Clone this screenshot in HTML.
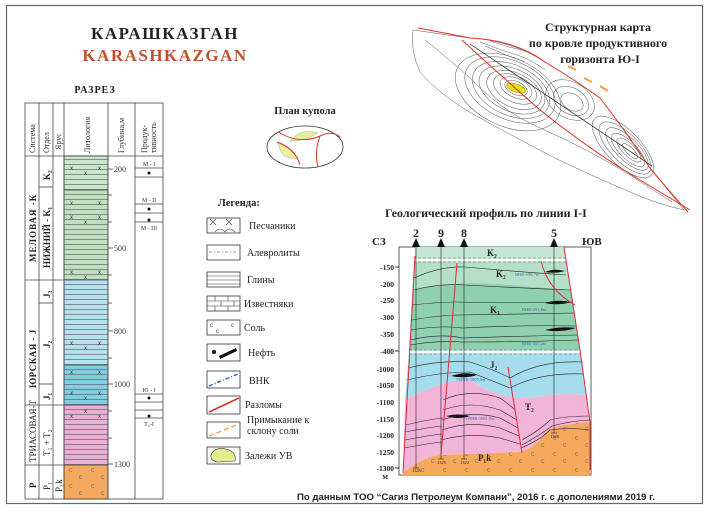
<!DOCTYPE html>
<html><head><meta charset="utf-8"><style>
html,body{margin:0;padding:0;background:#fff;}
svg{display:block;}
</style></head><body>
<svg width="708" height="517" viewBox="0 0 708 517" xmlns="http://www.w3.org/2000/svg" font-family="Liberation Serif, serif">
<defs>
<pattern id="clay" width="10" height="5" patternUnits="userSpaceOnUse"><line x1="0" y1="4.5" x2="10" y2="4.5" stroke="#555" stroke-width="0.6"/></pattern>
<pattern id="salt" width="22" height="16" patternUnits="userSpaceOnUse"><text x="3" y="8" font-size="7" font-family="Liberation Sans" fill="#777">c</text><text x="13" y="15" font-size="7" font-family="Liberation Sans" fill="#777">c</text></pattern>
</defs>
<rect x="6.5" y="5.5" width="696" height="498" fill="none" stroke="#666" stroke-width="1.2"/>

<text x="165" y="39" text-anchor="middle" font-size="17" font-weight="bold" letter-spacing="1.5" fill="#222">КАРАШКАЗГАН</text>
<text x="165" y="61" text-anchor="middle" font-size="17" font-weight="bold" letter-spacing="1.5" fill="#c0522a">KARASHKAZGAN</text>
<text x="95" y="93" text-anchor="middle" font-size="10" font-weight="bold" letter-spacing="1" fill="#222">РАЗРЕЗ</text>

<g stroke="#444" stroke-width="0.8" fill="none">
<rect x="64" y="156" width="44" height="34" fill="#c8e6c9"/>
<rect x="64" y="190" width="44" height="90" fill="#bfe0c0"/>
<rect x="64" y="280" width="44" height="85" fill="#b5e0ee"/>
<rect x="64" y="365" width="44" height="40" fill="#82cde0"/>
<rect x="64" y="405" width="44" height="60" fill="#eab0d4"/>
<rect x="64" y="465" width="44" height="34" fill="#f4a95e"/>
<rect x="64" y="156" width="44" height="309" fill="url(#clay)" stroke="none"/>
<rect x="64" y="465" width="44" height="34" fill="url(#salt)" stroke="none"/>
<rect x="25" y="103" width="138" height="396"/>
<line x1="25" y1="156" x2="163" y2="156"/>
<line x1="39" y1="103" x2="39" y2="499"/>
<line x1="53" y1="103" x2="53" y2="499"/>
<line x1="64" y1="103" x2="64" y2="499"/>
<line x1="108" y1="103" x2="108" y2="499"/>
<line x1="135" y1="103" x2="135" y2="499"/>
<line x1="25" y1="280" x2="64" y2="280"/>
<line x1="25" y1="405" x2="64" y2="405"/>
<line x1="25" y1="465" x2="64" y2="465"/>
<line x1="39" y1="187" x2="53" y2="187"/>
<line x1="39" y1="303" x2="53" y2="303"/>
<line x1="39" y1="384" x2="53" y2="384"/>
<line x1="108" y1="169" x2="113" y2="169"/><line x1="108" y1="195" x2="112" y2="195"/><line x1="108" y1="222" x2="112" y2="222"/>
<line x1="108" y1="248" x2="113" y2="248"/><line x1="108" y1="275" x2="112" y2="275"/><line x1="108" y1="303" x2="112" y2="303"/>
<line x1="108" y1="331" x2="113" y2="331"/><line x1="108" y1="358" x2="112" y2="358"/><line x1="108" y1="384" x2="113" y2="384"/>
<line x1="108" y1="411" x2="112" y2="411"/><line x1="108" y1="438" x2="112" y2="438"/><line x1="108" y1="464" x2="113" y2="464"/>
<line x1="135" y1="168" x2="163" y2="168"/><line x1="135" y1="177" x2="163" y2="177"/>
<line x1="135" y1="204" x2="163" y2="204"/><line x1="135" y1="213" x2="163" y2="213"/><line x1="135" y1="222" x2="163" y2="222"/>
<line x1="135" y1="394" x2="163" y2="394"/><line x1="135" y1="402" x2="163" y2="402"/><line x1="135" y1="410" x2="163" y2="410"/><line x1="135" y1="418" x2="163" y2="418"/>
</g>
<g font-size="6" fill="#334" font-family="Liberation Sans">
<text x="70" y="170">x</text><text x="98" y="170">x</text><text x="84" y="175">x</text>
<text x="70" y="205">x</text><text x="98" y="205">x</text>
<text x="70" y="219">x</text><text x="98" y="219">x</text><text x="84" y="224">x</text>
<text x="70" y="274">x</text><text x="98" y="274">x</text><text x="84" y="279">x</text>
<text x="70" y="345">x</text><text x="98" y="345">x</text><text x="84" y="350">x</text>
<text x="70" y="374">x</text><text x="98" y="374">x</text>
<text x="70" y="395">x</text><text x="98" y="395">x</text><text x="84" y="400">x</text>
<text x="70" y="418">x</text><text x="98" y="418">x</text><text x="84" y="413">x</text>
</g>
<g font-size="8" fill="#333">
<text transform="translate(35,153) rotate(-90)">Система</text>
<text transform="translate(49,153) rotate(-90)">Отдел</text>
<text transform="translate(61,150) rotate(-90)">Ярус</text>
<text transform="translate(90,153) rotate(-90)">Литология</text>
<text transform="translate(124,153) rotate(-90)">Глубина,м</text>
<text transform="translate(147,153) rotate(-90)">Продук-</text>
<text transform="translate(156,153) rotate(-90)">тивность</text>
</g>
<g font-size="9" font-weight="bold" fill="#222">
<text transform="translate(36,262) rotate(-90)" letter-spacing="1">МЕЛОВАЯ -К</text>
<text transform="translate(36,388) rotate(-90)" letter-spacing="0.5">ЮРСКАЯ - J</text>
<text transform="translate(36,462) rotate(-90)" font-weight="normal">ТРИАСОВАЯ-Т</text>
<text transform="translate(36,488) rotate(-90)">P</text>
<text transform="translate(50,180) rotate(-90)">K₂</text>
<text transform="translate(50,268) rotate(-90)">НИЖНИЙ - K₁</text>
<text transform="translate(50,298) rotate(-90)">J₃</text>
<text transform="translate(50,348) rotate(-90)">J₂</text>
<text transform="translate(50,400) rotate(-90)">J₁</text>
<text transform="translate(50,456) rotate(-90)" font-weight="normal">T₁ + T₂</text>
<text transform="translate(50,490) rotate(-90)" font-weight="normal">P₁</text>
<text transform="translate(62,492) rotate(-90)" font-weight="normal">P₁k</text>
</g>
<g font-size="8" fill="#333">
<text x="114" y="172">200</text><text x="114" y="251">500</text><text x="114" y="334">800</text><text x="114" y="387">1000</text><text x="114" y="467">1300</text>
</g>
<g font-size="6" fill="#333" text-anchor="middle">
<text x="149" y="166">М - I</text><text x="149" y="202">М - II</text><text x="149" y="230">М - III</text>
<text x="149" y="392">Ю - I</text><text x="149" y="426">T₂-I</text>
</g>
<g fill="#111"><circle cx="149" cy="173" r="1.5"/><circle cx="149" cy="209" r="1.5"/><circle cx="149" cy="220" r="1.5"/><circle cx="149" cy="398" r="1.5"/><circle cx="149" cy="416" r="1.5"/></g>

<text x="305" y="114" text-anchor="middle" font-size="10.5" font-weight="bold" fill="#222">План купола</text>
<ellipse cx="305" cy="147" rx="38" ry="21" fill="#fff" stroke="#333" stroke-width="0.8"/>
<path d="M290,141 Q300,128 318,133 Q303,142 290,141Z" fill="#e8ee9c" stroke="#999" stroke-width="0.4"/>
<path d="M278,143 Q290,148 298,158 Q286,160 281,152Z" fill="#e8ee9c" stroke="#999" stroke-width="0.4"/>
<g stroke="#d32" stroke-width="1" fill="none">
<path d="M278,132 Q300,145 320,136 Q332,130 340,137"/>
<path d="M277,142 Q295,148 300,165"/>
<path d="M320,136 Q314,152 318,167"/>
</g>

<text x="218" y="206" font-size="10.5" font-weight="bold" fill="#222">Легенда:</text>
<g stroke="#333" stroke-width="0.8" fill="#fff">
<rect x="207" y="218" width="33" height="15"/>
<rect x="207" y="245" width="33" height="15"/>
<rect x="207" y="272" width="33" height="15"/>
<rect x="207" y="296" width="33" height="15"/>
<rect x="207" y="320" width="33" height="15"/>
<rect x="207" y="344" width="33" height="17"/>
<rect x="207" y="371" width="33" height="17"/>
<rect x="207" y="396" width="33" height="18"/>
<rect x="207" y="422" width="33" height="16"/>
<rect x="207" y="447" width="33" height="17"/>
</g>
<g stroke="#333" stroke-width="0.6" fill="none">
<path d="M210,219 l6,6 M216,219 l-6,6 M226,219 l6,6 M232,219 l-6,6 M215,232 q4,-6 10,0 M225,232 q4,-6 10,0"/>
<line x1="209" y1="252" x2="238" y2="252" stroke-dasharray="3 2 1 2"/>
<line x1="207" y1="276" x2="240" y2="276"/><line x1="207" y1="280" x2="240" y2="280"/><line x1="207" y1="284" x2="240" y2="284"/>
<line x1="207" y1="301" x2="240" y2="301"/><line x1="207" y1="306" x2="240" y2="306"/>
<line x1="215" y1="296" x2="215" y2="301"/><line x1="228" y1="296" x2="228" y2="301"/><line x1="221" y1="301" x2="221" y2="306"/><line x1="234" y1="301" x2="234" y2="306"/><line x1="215" y1="306" x2="215" y2="311"/><line x1="228" y1="306" x2="228" y2="311"/>
</g>
<g font-size="6" font-family="Liberation Sans" fill="#333"><text x="210" y="327">c</text><text x="216" y="333">c</text><text x="231" y="327">c</text></g>
<circle cx="214" cy="352" r="2" fill="#111"/>
<path d="M219,356 L236,348 L237,351 L220,359Z" fill="#111"/>
<line x1="209" y1="386" x2="238" y2="374" stroke="#2a5fa8" stroke-width="1.4" stroke-dasharray="4 2 1 2"/>
<line x1="209" y1="412" x2="239" y2="398" stroke="#d32" stroke-width="1.6"/>
<line x1="209" y1="436" x2="239" y2="424" stroke="#f0a040" stroke-width="1.4" stroke-dasharray="5 3"/>
<path d="M211,455 Q214,447 226,449 Q237,452 235,461 L218,462 Q210,461 211,455Z" fill="#e6ec8e" stroke="#333" stroke-width="0.6"/>
<g font-size="10" fill="#222">
<text x="249" y="229">Песчаники</text>
<text x="247" y="256">Алевролиты</text>
<text x="247" y="283">Глины</text>
<text x="244" y="307">Известняки</text>
<text x="244" y="331">Соль</text>
<text x="248" y="356">Нефть</text>
<text x="249" y="384">ВНК</text>
<text x="245" y="408">Разломы</text>
<text x="247" y="423">Примыкание к</text>
<text x="247" y="434">склону соли</text>
<text x="245" y="459">Залежи УВ</text>
</g>

<!-- structural map -->
<g fill="none" stroke="#555" stroke-width="0.5">
<path d="M413,30 Q440,34 470,38 Q510,40 545,62 Q575,80 600,98 Q625,130 650,168 Q668,190 684,210 Q660,205 630,192 Q590,175 555,158 Q520,140 480,118 Q440,96 420,72 Q410,50 413,30Z"/>
<path d="M425,40 Q450,60 470,78 Q500,110 540,128 Q590,150 630,175 Q650,188 672,202"/>
<ellipse cx="508" cy="92" rx="56" ry="34" transform="rotate(25 508 92)"/>
<ellipse cx="510" cy="90" rx="48" ry="29" transform="rotate(25 510 90)"/>
<ellipse cx="511" cy="90" rx="41" ry="25" transform="rotate(25 511 90)"/>
<ellipse cx="512" cy="90" rx="35" ry="21" transform="rotate(25 512 90)"/>
<ellipse cx="514" cy="90" rx="29" ry="17" transform="rotate(25 514 90)"/>
<ellipse cx="515" cy="89" rx="23" ry="13" transform="rotate(25 515 89)"/>
<ellipse cx="516" cy="88" rx="17" ry="9.5" transform="rotate(25 516 88)"/>
<ellipse cx="516" cy="88" rx="12" ry="6.5" transform="rotate(25 516 88)"/>
<ellipse cx="623" cy="147" rx="40" ry="17" transform="rotate(45 623 147)"/>
<ellipse cx="625" cy="148" rx="34" ry="14" transform="rotate(45 625 148)"/>
<ellipse cx="627" cy="149" rx="28" ry="11" transform="rotate(45 627 149)"/>
<ellipse cx="628" cy="150" rx="22" ry="8.5" transform="rotate(45 628 150)"/>
<ellipse cx="629" cy="150" rx="16" ry="6" transform="rotate(45 629 150)"/>
<ellipse cx="630" cy="151" rx="10" ry="3.5" transform="rotate(45 630 151)"/>
<ellipse cx="570" cy="100" rx="26" ry="18" transform="rotate(30 570 100)"/>
<ellipse cx="571" cy="101" rx="19" ry="13" transform="rotate(30 571 101)"/>
<ellipse cx="572" cy="102" rx="12" ry="8" transform="rotate(30 572 102)"/>
<path d="M480,42 Q500,50 520,56 Q535,62 545,70"/>
<path d="M485,46 Q505,55 525,62"/>
<path d="M490,41 Q510,48 530,52"/>
</g>
<ellipse cx="516" cy="88" rx="10" ry="4" transform="rotate(20 516 88)" fill="#e5e010" stroke="#9a9a20" stroke-width="0.6"/>
<g fill="none" stroke="#d32" stroke-width="1">
<path d="M418,28 Q450,34 470,38 Q515,40 545,62 Q575,80 600,98 Q625,130 650,168 Q668,190 688,212"/>
<path d="M462,40 Q500,75 540,110 Q590,150 640,180 Q665,195 690,210"/>
</g>
<line x1="470" y1="44" x2="652" y2="166" stroke="#222" stroke-width="0.7"/>
<g stroke="#f0a040" stroke-width="2"><line x1="568" y1="66" x2="576" y2="70"/><line x1="584" y1="78" x2="592" y2="82"/><line x1="600" y1="86" x2="608" y2="91"/></g>
<text x="598" y="31" text-anchor="middle" font-size="12" font-weight="bold" fill="#222">Структурная карта</text>
<text x="598" y="47" text-anchor="middle" font-size="12" font-weight="bold" fill="#222">по кровле продуктивного</text>
<text x="600" y="63" text-anchor="middle" font-size="12" font-weight="bold" fill="#222">горизонта Ю-I</text>
<text x="385" y="217" font-size="12" font-weight="bold" fill="#222">Геологический профиль по линии I-I</text>

<!-- section -->
<rect x="399" y="247" width="192" height="228" fill="#fff" stroke="#333" stroke-width="0.8"/>
<path d="M415,247 L564,247 L566,262 L414,262Z" fill="#c3e6d0"/>
<path d="M414,262 L566,262 L580,350 L409,350Z" fill="#8fd0ae"/>
<path d="M414,262 L566,262 L570,290 Q520,285 470,283 Q440,285 414,290Z" fill="#b5e0c8"/>
<path d="M409,350 L580,350 L586,395 Q560,392 530,398 Q500,400 470,380 Q440,380 405,400Z" fill="#a6ddec"/>
<path d="M405,400 Q440,380 470,380 Q500,400 530,398 Q560,392 586,395 L590,422 Q560,424 548,430 Q535,448 520,452 L440,455 Q420,458 403,473Z" fill="#f2b5d9"/>
<path d="M403,473 Q420,458 440,455 L520,452 Q535,448 548,430 Q560,424 590,422 L590,475 L403,475Z" fill="#f6a95c"/>
<path d="M403,473 Q420,458 440,455 L520,452 Q535,448 548,430 Q560,424 590,422 L590,475 L403,475Z" fill="url(#salt)"/>
<g stroke="#fff" stroke-width="2.5" fill="none"><line x1="413" y1="260" x2="567" y2="260"/><line x1="409" y1="352" x2="580" y2="352"/></g>
<g stroke="#666" stroke-width="0.5" fill="none" stroke-dasharray="3 2"><line x1="413" y1="258" x2="567" y2="258"/><line x1="413" y1="262" x2="567" y2="262"/><line x1="409" y1="350" x2="580" y2="350"/><line x1="409" y1="354" x2="580" y2="354"/></g>
<g stroke="#222" stroke-width="0.6" fill="none">
<path d="M414,278 Q440,266 465,267 Q520,272 566,275"/>
<path d="M414,290 Q440,283 465,285 Q520,288 570,290"/>
<path d="M412,305 Q440,302 455,302 Q520,303 572,302"/>
<path d="M412,320 Q440,315 460,315 Q520,314 574,313"/>
<path d="M411,330 Q440,325 462,328 Q520,325 576,326"/>
<path d="M410,340 Q440,333 462,338 Q520,336 578,335"/>
<path d="M410,345 Q440,340 462,342 Q520,342 579,340"/>
<path d="M408,368 Q440,360 470,362 Q495,370 510,378 Q540,360 583,362"/>
<path d="M407,380 Q440,372 470,372 Q495,382 510,388 Q540,372 584,374"/>
<path d="M443,400 Q470,388 500,398 Q510,405 515,410"/>
<path d="M443,410 Q470,400 500,410 L517,420"/>
<path d="M442,420 Q470,410 500,418 L518,428"/>
<path d="M442,430 Q470,420 500,428 L519,436"/>
<path d="M441,440 Q470,432 500,438 L520,444"/>
<path d="M406,425 Q425,420 443,418"/><path d="M405,432 Q425,428 442,426"/><path d="M405,440 Q425,436 442,434"/><path d="M404,448 Q425,444 441,442"/>
<path d="M522,440 Q540,430 550,420 Q565,416 589,416"/><path d="M522,445 Q540,435 552,426 Q570,421 590,420"/><path d="M521,448 Q540,440 550,430 Q570,427 589,430"/>
<line x1="416" y1="247" x2="416" y2="468"/><line x1="441" y1="247" x2="441" y2="459"/><line x1="464" y1="247" x2="464" y2="459"/><line x1="554" y1="247" x2="554" y2="433"/>
<line x1="413" y1="468" x2="419" y2="468"/><line x1="438" y1="459" x2="444" y2="459"/><line x1="461" y1="459" x2="467" y2="459"/><line x1="551" y1="433" x2="557" y2="433"/>
</g>
<g fill="#111">
<path d="M545,272 Q554,268 565,271 Q555,274 545,272Z"/>
<path d="M545,303 Q557,299 572,302 Q557,306 545,303Z"/>
<path d="M545,330 Q560,326 576,328 Q560,333 545,330Z"/>
<path d="M451,376 Q465,371 477,375 Q465,379 451,376Z"/>
<path d="M446,416 Q458,413 470,416 Q458,420 446,416Z"/>
</g>
<g stroke="#e02a3a" stroke-width="1" fill="none">
<line x1="415" y1="256" x2="403" y2="473"/>
<line x1="457" y1="263" x2="441" y2="455"/>
<line x1="508" y1="367" x2="522" y2="453"/>
<path d="M541,261 Q548,290 575,305"/>
<path d="M564,247 L580,350 L590,422 L590,470"/>
</g>
<g font-size="4.5" fill="#3a6fa8"><text x="515" y="276">ВНК-158.7м</text><text x="522" y="311">ВНК-291.8м</text><text x="522" y="345">ВНК-357.2м</text><text x="456" y="381">УВНК-1007.9м</text><text x="465" y="420">УВНК-1061.0м</text></g>
<g font-size="4.5" fill="#222"><text x="412" y="472">1345</text><text x="437" y="464">1325</text><text x="460" y="464">1322</text><text x="550" y="438">1328</text></g>
<g font-size="9" font-weight="bold" fill="#222">
<text x="487" y="256">K₂</text><text x="496" y="277">K₂</text><text x="490" y="313">K₁</text><text x="490" y="368">J₂</text><text x="525" y="410">T₂</text><text x="478" y="461">P₁k</text>
</g>
<g font-size="7.5" fill="#222" text-anchor="end" font-weight="bold">
<text x="394" y="270">-150</text><text x="394" y="287">-200</text><text x="394" y="303">-250</text><text x="394" y="320">-300</text><text x="394" y="337">-350</text><text x="394" y="354">-400</text>
<text x="394" y="372">-1000</text><text x="394" y="388">-1050</text><text x="394" y="405">-1100</text><text x="394" y="422">-1150</text><text x="394" y="438">-1200</text><text x="394" y="455">-1250</text><text x="394" y="471">-1300</text>
<text x="388" y="479" font-size="6">М</text>
</g>
<g stroke="#333" stroke-width="1"><line x1="395" y1="267" x2="399" y2="267"/><line x1="395" y1="351" x2="399" y2="351"/><line x1="395" y1="468" x2="399" y2="468"/></g>
<g fill="#111"><path d="M412,247 L416,238 L420,247Z"/><path d="M437,247 L441,238 L445,247Z"/><path d="M460,247 L464,238 L468,247Z"/><path d="M550,247 L554,238 L558,247Z"/></g>
<g font-size="12" font-weight="bold" fill="#222" text-anchor="middle">
<text x="416" y="237">2</text><text x="441" y="237">9</text><text x="464" y="237">8</text><text x="554" y="237">5</text>
</g>
<text x="372" y="245" font-size="11" font-weight="bold" fill="#222">СЗ</text>
<text x="582" y="245" font-size="11" font-weight="bold" fill="#222">ЮВ</text>

<text x="297" y="500" font-family="Liberation Sans, sans-serif" font-size="9.6" font-weight="bold" fill="#222">По данным ТОО “Сагиз Петролеум Компани”, 2016 г. с дополениями 2019 г.</text>
</svg>
</body></html>
